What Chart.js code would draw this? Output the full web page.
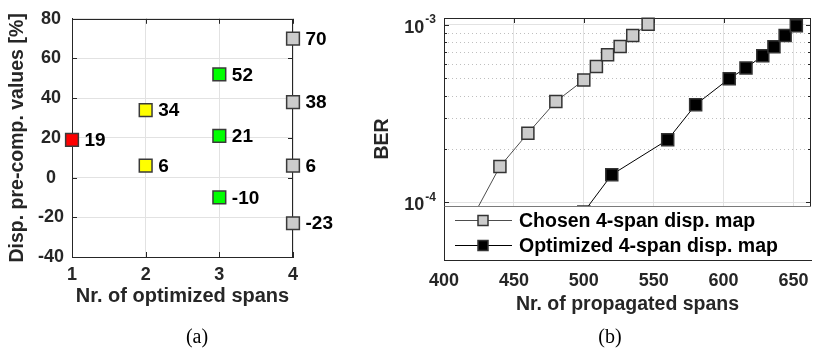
<!DOCTYPE html>
<html>
<head>
<meta charset="utf-8">
<script src="https://cdn.jsdelivr.net/npm/chart.js@4/dist/chart.umd.min.js"></script>
<style>
  html, body { margin: 0; padding: 0; background: #fff; overflow: hidden; }
  #wrap { position: relative; width: 821px; height: 350px; }
  .pane { position: absolute; top: 0; height: 350px; }
  #paneA { left: 0; width: 360px; }
  #paneB { left: 360px; width: 461px; }
  .cap { position: absolute; font-family: "Liberation Serif", "Times New Roman", serif; font-size: 20px; color: #000; transform: translate(-50%, -50%); }
</style>
</head>
<body>
<div id="wrap">
  <div class="pane" id="paneA"><canvas id="precompChart" width="360" height="350"></canvas></div>
  <div class="pane" id="paneB"><canvas id="berChart" width="461" height="350"></canvas></div>
  <div class="cap" style="left:197px; top:336px">(a)</div>
  <div class="cap" style="left:610px; top:336px">(b)</div>
</div>
<script>
// (a) pre-compensation values per number of optimized spans
const oneSpanX = [1];
const oneSpanVals = [19];
const twoSpanX = [2, 2];
const twoSpanVals = [34, 6];
const threeSpanX = [3, 3, 3];
const threeSpanVals = [52, 21, -10];
const fourSpanX = [4, 4, 4, 4];
const fourSpanVals = [70, 38, 6, -23];

// (b) BER against number of propagated spans
const chosenSpans = [420, 440, 460, 480, 500, 509, 517, 526, 535, 546];
const chosenBer = [8.1e-5, 1.59e-4, 2.45e-4, 3.70e-4, 4.89e-4, 5.83e-4, 6.79e-4, 7.57e-4, 8.73e-4, 1.01e-3];
const optimizedSpans = [500, 520, 560, 580, 604, 616, 628, 636, 644, 652];
const optimizedBer = [8.8e-5, 1.43e-4, 2.25e-4, 3.55e-4, 4.98e-4, 5.72e-4, 6.71e-4, 7.54e-4, 8.73e-4, 9.91e-4];
const berDecades = [1e-4, 1e-3];
const legendNames = ['Chosen 4-span disp. map', 'Optimized 4-span disp. map'];

const FONT = '"Liberation Sans", Arial, Helvetica, sans-serif';
const AXIS = '#262626';
const GRID = '#e2e2e2';

Chart.defaults.font.family = FONT;
Chart.defaults.font.weight = 'bold';
Chart.defaults.color = AXIS;

const toPoints = (xs, ys) => xs.map((x, i) => ({ x: x, y: ys[i] }));

function isDecade(v) {
  const m = v / Math.pow(10, Math.floor(Math.log10(v) + 1e-9));
  return Math.abs(m - 1) < 1e-6;
}
function isMinorLog(v) {
  const m = v / Math.pow(10, Math.floor(Math.log10(v) + 1e-9));
  return Math.abs(m - Math.round(m)) < 1e-6 && Math.round(m) > 1;
}

// box around the axes plus inward tick marks
const framePlugin = {
  id: 'frame',
  beforeDatasetsDraw(chart, args, opts) {
    const { ctx, chartArea: a, scales } = chart;
    ctx.save();
    // dotted minor grid for log axis
    if (opts.log) {
      ctx.strokeStyle = '#bfbfbf';
      ctx.lineWidth = 1;
      ctx.setLineDash([1, 3]);
      ctx.beginPath();
      scales.y.ticks.forEach(t => {
        if (!isMinorLog(t.value)) return;
        const py = Math.round(scales.y.getPixelForValue(t.value)) + 0.5;
        ctx.moveTo(a.left, py);
        ctx.lineTo(a.right, py);
      });
      ctx.stroke();
      ctx.setLineDash([]);
    }
    ctx.strokeStyle = AXIS;
    ctx.lineWidth = 1;
    ctx.strokeRect(Math.round(a.left) + 0.5, Math.round(a.top) + 0.5,
      Math.round(a.right - a.left) - 1, Math.round(a.bottom - a.top));
    ctx.beginPath();
    scales.x.ticks.forEach(t => {
      const px = Math.round(scales.x.getPixelForValue(t.value)) + 0.5;
      ctx.moveTo(px, a.top); ctx.lineTo(px, a.top + 5);
      ctx.moveTo(px, a.bottom); ctx.lineTo(px, a.bottom - 5);
    });
    scales.y.ticks.forEach(t => {
      let len = 5;
      if (opts.log) {
        if (isDecade(t.value)) len = 5;
        else if (isMinorLog(t.value)) len = 3;
        else return;
      }
      const py = Math.round(scales.y.getPixelForValue(t.value)) + 0.5;
      ctx.moveTo(a.left, py); ctx.lineTo(a.left + len, py);
      ctx.moveTo(a.right, py); ctx.lineTo(a.right - len, py);
    });
    ctx.stroke();
    ctx.restore();
  }
};

// value text beside every marker in (a)
const valueLabels = {
  id: 'valueLabels',
  afterDatasetsDraw(chart) {
    const { ctx } = chart;
    ctx.save();
    ctx.font = 'bold 19px ' + FONT;
    ctx.fillStyle = '#000';
    ctx.textAlign = 'left';
    ctx.textBaseline = 'middle';
    chart.data.datasets.forEach((ds, di) => {
      chart.getDatasetMeta(di).data.forEach((el, i) => {
        ctx.fillText(String(ds.data[i].y), el.x + 12.5, el.y + 1);
      });
    });
    ctx.restore();
  }
};

// legend box drawn inside the bottom of the plot area in (b)
const boxLegend = {
  id: 'boxLegend',
  afterDatasetsDraw(chart) {
    const { ctx, chartArea: a } = chart;
    const top = Math.round(a.bottom - 54) + 0.5;
    ctx.save();
    ctx.fillStyle = '#fff';
    ctx.fillRect(a.left, top, a.right - a.left, a.bottom - top);
    ctx.strokeStyle = '#7a7a7a';
    ctx.lineWidth = 1;
    ctx.beginPath();
    ctx.moveTo(a.left, top); ctx.lineTo(a.right, top);
    ctx.stroke();
    ctx.strokeStyle = AXIS;
    ctx.beginPath();
    ctx.moveTo(Math.round(a.left) + 0.5, top); ctx.lineTo(Math.round(a.left) + 0.5, a.bottom);
    ctx.moveTo(a.left, Math.round(a.bottom) + 0.5); ctx.lineTo(a.right, Math.round(a.bottom) + 0.5);
    ctx.stroke();
    chart.data.datasets.forEach((ds, i) => {
      const y = top + 14 + i * 25;
      ctx.strokeStyle = ds.borderColor;
      ctx.lineWidth = 1;
      ctx.beginPath();
      ctx.moveTo(a.left + 11, y); ctx.lineTo(a.left + 68, y);
      ctx.stroke();
      ctx.fillStyle = ds.pointBackgroundColor;
      ctx.strokeStyle = ds.pointBorderColor;
      ctx.lineWidth = 1.5;
      ctx.fillRect(a.left + 34, y - 5, 10, 10);
      ctx.strokeRect(a.left + 34, y - 5, 10, 10);
      ctx.fillStyle = '#000';
      ctx.font = 'bold 19.5px ' + FONT;
      ctx.textAlign = 'left';
      ctx.textBaseline = 'middle';
      ctx.fillText(legendNames[i], a.left + 75, y + 1);
    });
    ctx.restore();
  }
};

// power-of-ten labels with raised exponent
const decadeLabels = {
  id: 'decadeLabels',
  afterDraw(chart) {
    const { ctx, chartArea: a } = chart;
    const ys = chart.scales.y;
    ctx.save();
    ctx.fillStyle = AXIS;
    ctx.textAlign = 'right';
    ctx.textBaseline = 'middle';
    berDecades.forEach(v => {
      const py = ys.getPixelForValue(v);
      const exp = String(Math.round(Math.log10(v)));
      ctx.font = 'bold 12px ' + FONT;
      const w = ctx.measureText(exp).width;
      const right = a.left - 8;
      ctx.fillText(exp, right, py - 5);
      ctx.font = 'bold 18px ' + FONT;
      ctx.fillText('10', right - w - 1, py + 3);
    });
    ctx.restore();
  }
};

const markerStyle = (fill) => ({
  pointStyle: 'rect',
  pointRadius: 9,
  pointHoverRadius: 9,
  pointBackgroundColor: fill,
  pointBorderColor: '#3a3a3a',
  pointBorderWidth: 1.5,
  showLine: false,
  clip: false
});

new Chart(document.getElementById('precompChart'), {
  type: 'scatter',
  data: {
    datasets: [
      { data: toPoints(oneSpanX, oneSpanVals), ...markerStyle('#ff0000') },
      { data: toPoints(twoSpanX, twoSpanVals), ...markerStyle('#ffff00') },
      { data: toPoints(threeSpanX, threeSpanVals), ...markerStyle('#00ff00') },
      { data: toPoints(fourSpanX, fourSpanVals), ...markerStyle('#cccccc') }
    ]
  },
  options: {
    responsive: false,
    animation: false,
    layout: { padding: { top: 17, right: 67, left: 0, bottom: 0 } },
    plugins: { legend: { display: false }, tooltip: { enabled: false }, frame: { log: false } },
    scales: {
      x: {
        type: 'linear', min: 1, max: 4,
        afterFit: s => { s.height = 93; },
        ticks: { stepSize: 1, padding: 7, font: { size: 18, weight: 'bold' }, color: AXIS },
        grid: { color: GRID, drawTicks: false },
        border: { color: AXIS },
        title: { display: true, text: 'Nr. of optimized spans', color: AXIS,
          font: { size: 20, weight: 'bold' }, padding: { top: 0, bottom: 42 } }
      },
      y: {
        type: 'linear', min: -40, max: 80,
        afterFit: s => { s.width = 72; },
        ticks: { stepSize: 20, padding: 8, crossAlign: 'center', font: { size: 18, weight: 'bold' }, color: AXIS },
        grid: { color: GRID, drawTicks: false },
        border: { color: AXIS },
        title: { display: true, text: 'Disp. pre-comp. values [%]', color: AXIS,
          font: { size: 19.5, weight: 'bold' }, padding: { top: 6, bottom: 0 } }
      }
    }
  },
  plugins: [framePlugin, valueLabels]
});

const lineStyle = (color, fill) => ({
  borderColor: color,
  borderWidth: 1,
  pointStyle: 'rect',
  pointRadius: 8.5,
  pointHoverRadius: 8.5,
  pointBackgroundColor: fill,
  pointBorderColor: '#333333',
  pointBorderWidth: 1.5,
  showLine: true,
  clip: false
});

new Chart(document.getElementById('berChart'), {
  type: 'scatter',
  data: {
    datasets: [
      { label: legendNames[0], data: toPoints(chosenSpans, chosenBer), ...lineStyle('#4d4d4d', '#cccccc') },
      { label: legendNames[1], data: toPoints(optimizedSpans, optimizedBer), ...lineStyle('#000000', '#000000') }
    ]
  },
  options: {
    responsive: false,
    animation: false,
    layout: { padding: { top: 18, right: 0, left: 0, bottom: 0 } },
    plugins: { legend: { display: false }, tooltip: { enabled: false }, frame: { log: true } },
    scales: {
      x: {
        type: 'linear', min: 400, max: 662.5,
        afterFit: s => { s.height = 90; },
        ticks: { stepSize: 50, includeBounds: false, padding: 10, font: { size: 18, weight: 'bold' }, color: AXIS },
        grid: { color: GRID, drawTicks: false },
        border: { color: AXIS },
        title: { display: true, text: 'Nr. of propagated spans', color: AXIS,
          font: { size: 19.5, weight: 'bold' }, padding: { top: 0, bottom: 34 } }
      },
      y: {
        type: 'logarithmic', min: 4.72e-5, max: 1.095e-3,
        afterFit: s => { s.width = 84; },
        ticks: { display: false },
        grid: { color: c => (c.tick && isDecade(c.tick.value)) ? GRID : 'rgba(0,0,0,0)', drawTicks: false },
        border: { color: AXIS },
        title: { display: true, text: 'BER', color: AXIS,
          font: { size: 19.5, weight: 'bold' }, padding: { top: 11, bottom: 0 } }
      }
    }
  },
  plugins: [framePlugin, boxLegend, decadeLabels]
});
</script>
</body>
</html>
